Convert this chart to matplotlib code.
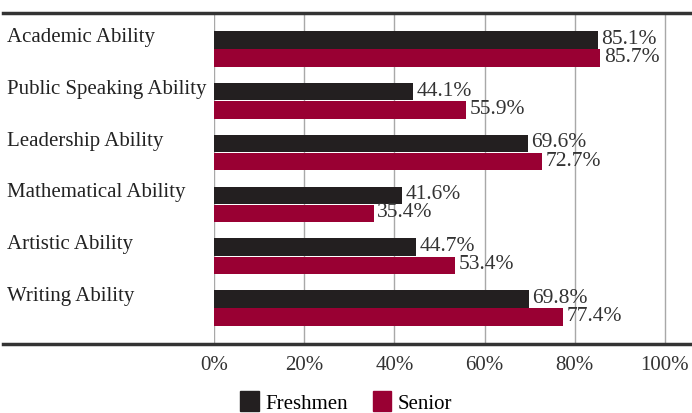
import matplotlib.pyplot as plt
from matplotlib.lines import Line2D
from matplotlib.patches import Patch
import matplotlib.transforms as mtransforms

categories = ['Academic Ability', 'Public Speaking Ability', 'Leadership Ability',
              'Mathematical Ability', 'Artistic Ability', 'Writing Ability']
freshmen = [85.1, 44.1, 69.6, 41.6, 44.7, 69.8]
senior = [85.7, 55.9, 72.7, 35.4, 53.4, 77.4]
ticks = [0, 20, 40, 60, 80, 100]
tick_labels = ['0%', '20%', '40%', '60%', '80%', '100%']

dark = '#231f20'
crimson = '#990033'
plt.rcParams['font.family'] = ['Liberation Serif', 'DejaVu Serif']

W, H = 692, 414
fig = plt.figure(figsize=(W / 100, H / 100), dpi=100)
ax = fig.add_axes([214 / W, (H - 345) / H, (W - 214) / W, (345 - 14) / H])

h = 0.34
off = 0.175
ys = list(range(len(categories)))
for x in ticks:
    ax.axvline(x, color='#a8a8a8', lw=1, zorder=0)
ax.barh([y - off for y in ys], freshmen, height=h, color=dark, zorder=2)
ax.barh([y + off for y in ys], senior, height=h, color=crimson, zorder=2)

for y, f, s in zip(ys, freshmen, senior):
    ax.text(f + 0.8, y - off - 0.03, f'{f}%', va='center', ha='left', fontsize=15.5, color='#333333')
    ax.text(s + 0.8, y + off - 0.03, f'{s}%', va='center', ha='left', fontsize=15.5, color='#333333')

# category names sit at the left edge of the figure
trans = mtransforms.blended_transform_factory(fig.transFigure, ax.transData)
for y, c in zip(ys, categories):
    ax.text(7 / W, y - 0.24, c, transform=trans, ha='left', va='center',
            fontsize=15, color='#222222')

ax.set_xlim(0, 106)
ax.set_ylim(len(categories) - 0.31, -0.69)
ax.set_yticks([])
ax.set_xticks(ticks)
ax.set_xticklabels(tick_labels, fontsize=15, color='#333333')
ax.tick_params(axis='x', length=0, pad=8)
for sp in ax.spines.values():
    sp.set_visible(False)

# heavy rules across the whole width
for yy in (14, 345):
    fig.add_artist(Line2D([3 / W, 1], [1 - yy / H] * 2, transform=fig.transFigure,
                          color='#333333', lw=2.5))

handles = [Patch(color=dark), Patch(color=crimson)]
fig.legend(handles, ['Freshmen', 'Senior'], loc='center', ncol=2,
           bbox_to_anchor=(0.5, 1 - 403 / H), frameon=False, fontsize=15,
           handlelength=0.9, handleheight=1.1, handletextpad=0.3, columnspacing=1.2)

fig.savefig('out.png', dpi=100)
